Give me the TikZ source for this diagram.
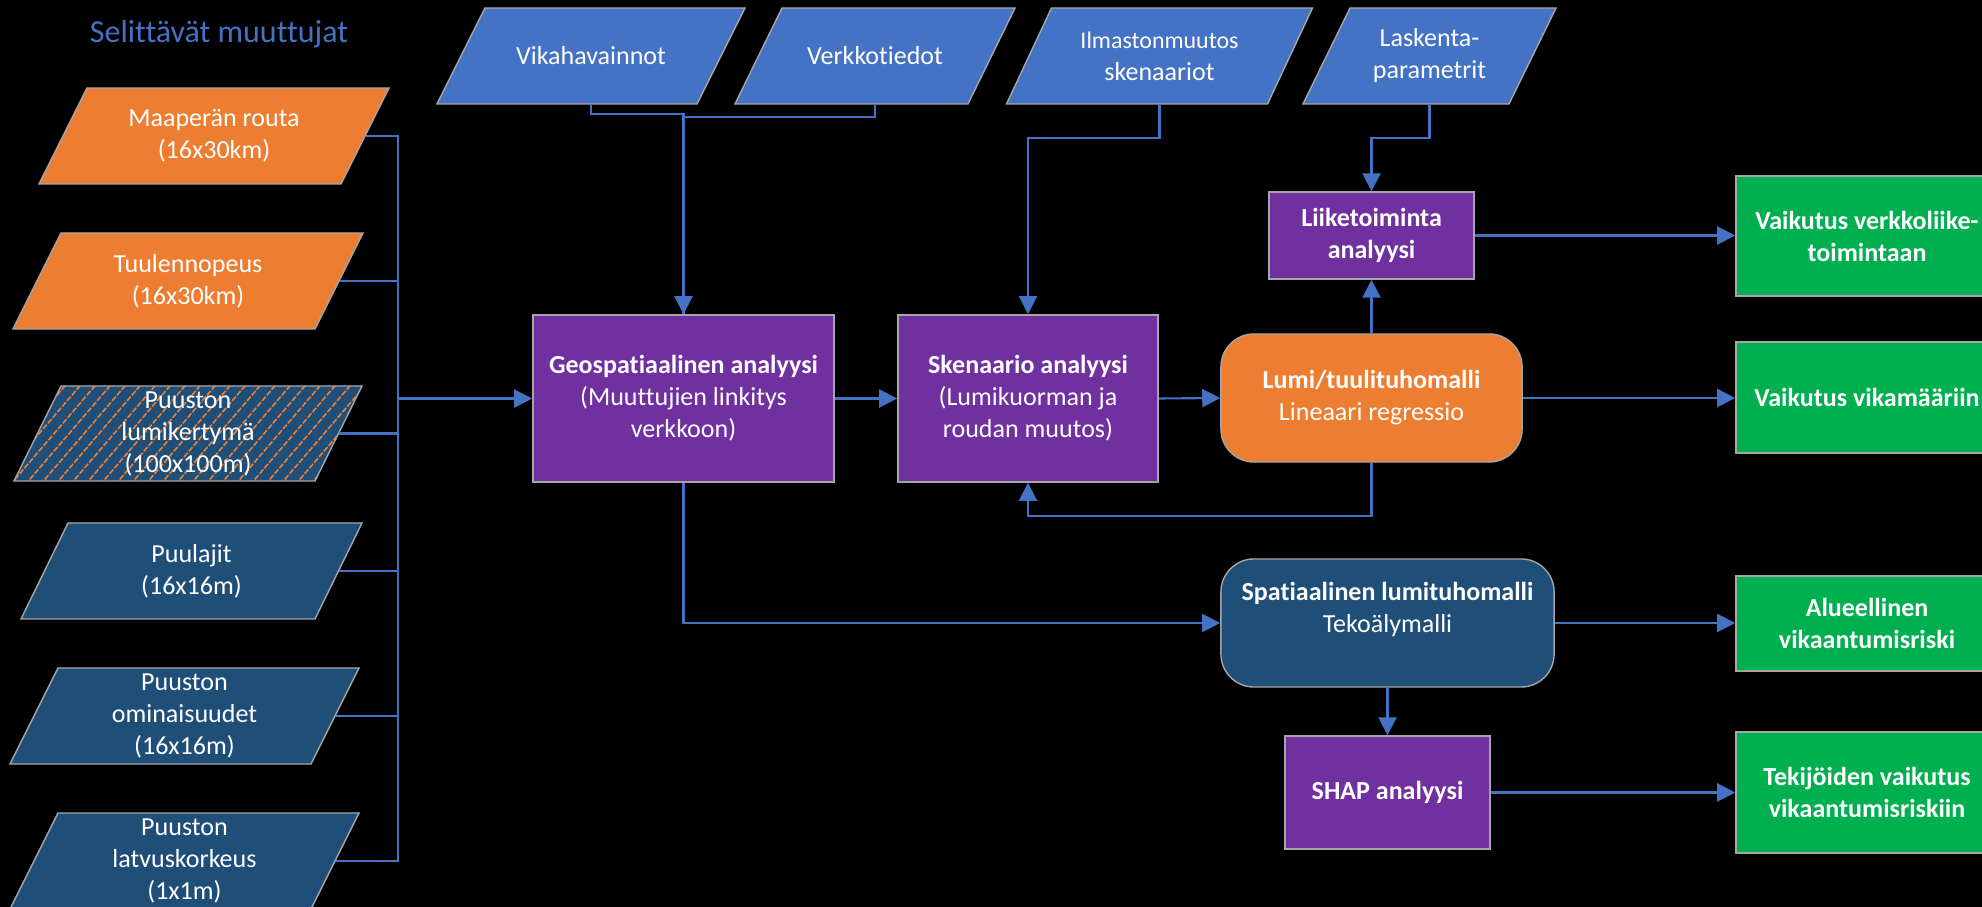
\documentclass[tikz,border=0pt]{standalone}
\usepackage{fontspec}
\setmainfont[Ligatures=NoCommon]{Carlito}
\usetikzlibrary{arrows.meta}
\definecolor{conn}{HTML}{4472C4}
\definecolor{topblue}{HTML}{4472C4}
\definecolor{darkblue}{HTML}{1F4E79}
\definecolor{orng}{HTML}{ED7D31}
\definecolor{purp}{HTML}{7030A0}
\definecolor{grn}{HTML}{00B050}
\definecolor{edge}{HTML}{A6A6A6}
% parallelogram: cx, cy, top width, height, skew, path options
\newcommand{\pgshape}[6]{%
  \path[#6] ({#1-#3/2+#5/2},{#2-#4/2}) -- ({#1+#3/2+#5/2},{#2-#4/2}) -- ({#1+#3/2-#5/2},{#2+#4/2}) -- ({#1-#3/2-#5/2},{#2+#4/2}) -- cycle;}
% name, cx, cy, width, height, skew, fill, text
\newcommand{\pgnode}[8]{%
  \pgshape{#2}{#3}{#4}{#5}{#6}{fill=#7, draw=edge, line width=0.4pt}
  \node[ptext, minimum width=#4*0.01cm, minimum height=#5*0.01cm] (#1) at (#2,#3) {#8};}
\begin{document}
\begin{tikzpicture}[x=0.01cm, y=-0.01cm,
  txt/.style={text=white, align=center, inner sep=0pt, font=\fontsize{7.4pt}{9.1pt}\selectfont},
  ptext/.style={txt, rectangle},
  pbox/.style={txt, rectangle, draw=edge, line width=0.4pt},
  bbox/.style={pbox, font=\fontsize{7.4pt}{9.1pt}\selectfont\bfseries},
  ln/.style={draw=conn, line width=0.6pt},
  arr/.style={ln, -{Triangle[length=1.8mm, width=1.8mm]}}]
\fill[black] (0,0) rectangle (1982,907);
\useasboundingbox (0,0) rectangle (1982,907);
\clip (0,0) rectangle (1982,907);

% title
\node[text=conn, inner sep=0pt, font=\fontsize{9.1pt}{11pt}\selectfont] (title) at (219,34) {Selittävät muuttujat};

% left inputs
\pgnode{maa}{214}{136}{302}{96}{48}{orng}{Maaperän routa\\(16x30km)}
\pgnode{tuul}{188}{281}{302}{96}{48}{orng}{Tuulennopeus\\(16x30km)}
\pgshape{188}{433.5}{301}{95}{47}{fill=darkblue}
\begin{scope}
  \pgshape{188}{433.5}{301}{95}{47}{clip}
  \foreach \k in {0,...,34} \draw[orng, line width=0.45pt, dash pattern=on 1.6pt off 0.5pt] ({-110+\k*15},485) -- ++(90,-105);
\end{scope}
\pgshape{188}{433.5}{301}{95}{47}{draw=edge, line width=0.4pt}
\node[ptext, minimum width=3.01cm, minimum height=0.95cm] (lumik) at (188,433.5) {Puuston\\lumikertymä\\(100x100m)};
\pgnode{puul}{191.5}{571}{294}{96}{47}{darkblue}{Puulajit\\(16x16m)}
\pgnode{omin}{184.5}{716}{301}{96}{48}{darkblue}{Puuston\\ominaisuudet\\(16x16m)}
\pgnode{latv}{184.5}{861}{301}{96}{48}{darkblue}{Puuston\\latvuskorkeus\\(1x1m)}

% top inputs
\pgnode{vika}{591}{56}{260}{96}{48}{topblue}{Vikahavainnot}
\pgnode{verk}{875}{56}{233}{96}{47}{topblue}{Verkkotiedot}
\pgnode{ilma}{1159.5}{56}{261}{96}{45}{topblue}{\fontsize{6.8pt}{8.25pt}\selectfont Ilmastonmuutos\\skenaariot}
\pgnode{lask}{1429.5}{56}{206}{96}{47}{topblue}{Laskenta-\\parametrit}

% process boxes
\node[pbox, fill=purp, minimum width=3.01cm, minimum height=1.67cm] (geo) at (683.5,398.5) {\textbf{Geospatiaalinen analyysi}\\(Muuttujien linkitys\\verkkoon)};
\node[pbox, fill=purp, minimum width=2.60cm, minimum height=1.67cm] (sken) at (1028,398.5) {\textbf{Skenaario analyysi}\\(Lumikuorman ja\\roudan muutos)};
\node[bbox, fill=purp, minimum width=2.05cm, minimum height=0.87cm] (liike) at (1371.5,235.5) {Liiketoiminta\\analyysi};
\node[pbox, fill=orng, rounded corners=0.33cm, minimum width=3.01cm, minimum height=1.28cm] (lumi) at (1371.5,398) {\textbf{Lumi/tuulituhomalli}\\Lineaari regressio};
\node[pbox, fill=darkblue, rounded corners=0.33cm, minimum width=3.33cm, minimum height=1.28cm] (spat) at (1387.5,623) {\textbf{Spatiaalinen lumituhomalli}\\Tekoälymalli\\\mbox{}};
\node[bbox, fill=purp, minimum width=2.05cm, minimum height=1.13cm] (shap) at (1387.5,792.5) {SHAP analyysi};

% outputs
\node[bbox, fill=grn, minimum width=2.62cm, minimum height=1.20cm] (g1) at (1867,236) {Vaikutus verkkoliike-\\toimintaan};
\node[bbox, fill=grn, minimum width=2.62cm, minimum height=1.11cm] (g2) at (1867,397.5) {Vaikutus vikamääriin};
\node[bbox, fill=grn, minimum width=2.62cm, minimum height=0.95cm] (g3) at (1867,623.5) {Alueellinen\\vikaantumisriski};
\node[bbox, fill=grn, minimum width=2.62cm, minimum height=1.21cm] (g4) at (1867,792.5) {Tekijöiden vaikutus\\vikaantumisriskiin};

% connectors
\coordinate (bus) at (398,398.5);
\foreach \n in {maa,tuul,lumik,puul,omin,latv} \draw[ln] (\n.east) -| (bus);
\draw[arr] (bus) -- (geo.west);
\draw[arr] (vika.south) -- ++(0,9) -| (geo.north);
\draw[ln] (verk.south) -- ++(0,12) -| (geo.north);
\draw[arr] (ilma.south) -- ++(0,33) -| (sken.north);
\draw[arr] (lask.south) -- ++(0,33) -| (liike.north);
\draw[arr] (geo.east) -- (sken.west);
\draw[arr] (sken.east) -- (lumi.west);
\draw[arr] (lumi.north) -- (liike.south);
\draw[arr] (lumi.south) -- ++(0,53) -| (sken.south);
\draw[arr] (geo.south) |- (spat.west);
\draw[arr] (spat.south) -- (shap.north);
\draw[arr] (liike.east) -- (liike.east -| g1.west);
\draw[arr] (lumi.east) -- (lumi.east -| g2.west);
\draw[arr] (spat.east) -- (spat.east -| g3.west);
\draw[arr] (shap.east) -- (shap.east -| g4.west);
\end{tikzpicture}
\end{document}
